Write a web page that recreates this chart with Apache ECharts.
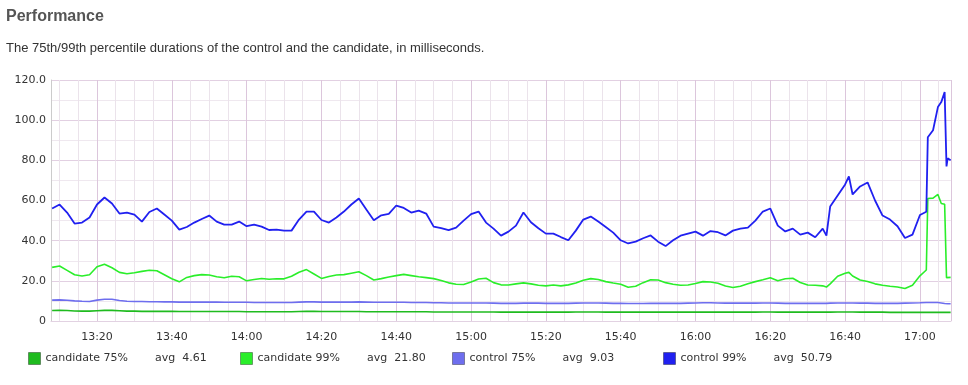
<!DOCTYPE html>
<html><head><meta charset="utf-8">
<script src="https://cdn.jsdelivr.net/npm/echarts@6/dist/echarts.min.js"></script>
<style>html,body{margin:0;padding:0;background:#fff;}#c{width:968px;height:385px;}</style>
</head><body><div id="c"></div>
<script>
// x positions: minutes since midnight (13:08 = 788)
const minutes = [788,790,792,794,796,798,800,802,804,806,808,810,812,814,816,818,820,822,824,826,828,830,832,834,836,838,840,842,844,846,848,850,852,854,856,858,860,862,864,866,868,870,872,874,876,878,880,882,884,886,888,890,892,894,896,898,900,902,904,906,908,910,912,914,916,918,920,922,924,926,928,930,932,934,936,938,940,942,944,946,948,950,952,954,956,958,960,962,964,966,968,970,972,974,976,978,980,982,984,986,988,990,992,994,
995,996,998,1000,1001,1002,1004,1006,1008,1010,1012,1014,1016,1018,1020,1021.7,1022.1,1023.5,1024.8,1025.7,1026.6,1027.1,1027.4,1028.2];

const candidate75 = [5.2,5.3,5.2,5.0,4.9,4.9,5.1,5.3,5.3,5.1,
4.9,4.9,4.8,4.8,4.8,4.8,4.8,4.7,4.7,4.7,
4.7,4.7,4.7,4.7,4.7,4.7,4.6,4.6,4.6,4.6,
4.6,4.6,4.6,4.7,4.8,4.8,4.7,4.7,4.7,4.7,
4.7,4.7,4.6,4.6,4.6,4.6,4.6,4.6,4.6,4.6,
4.6,4.5,4.5,4.5,4.5,4.5,4.5,4.5,4.5,4.5,
4.4,4.4,4.4,4.4,4.4,4.4,4.4,4.4,4.4,4.4,
4.5,4.5,4.5,4.5,4.4,4.4,4.4,4.4,4.4,4.4,
4.4,4.4,4.4,4.4,4.4,4.4,4.4,4.4,4.4,4.4,
4.4,4.4,4.4,4.4,4.4,4.5,4.5,4.4,4.4,4.4,
4.4,4.4,4.4,4.4,
4.4,4.4,4.5,4.5,4.5,4.5,4.4,4.4,4.4,4.4,4.3,4.3,4.3,4.3,4.3,4.3,4.3,4.3,4.3,4.3,4.3,4.3,4.3,4.3];

const candidate99 = [26.7,27.4,25.2,23,22.4,23,27,28.3,26.5,24.2,
23.5,24,24.7,25.3,25,23,21,19.5,21.7,22.6,
23.1,22.9,22,21.5,22.3,22,20,20.7,21.2,20.8,
21,21,22.3,24.3,25.6,23.4,21.2,22.2,22.9,23.1,
23.8,24.5,22.6,20.4,21.1,21.9,22.6,23.2,22.6,22,
21.6,21.1,20.2,19,18.3,18.2,19.4,20.9,21.3,19.1,
18,17.9,18.5,19,18.5,17.8,17.5,17.9,17.5,18,
18.9,20.3,21.1,20.7,19.6,18.9,18.3,16.8,17.3,19.1,
20.5,20.4,19.1,18.3,17.8,17.9,18.7,19.6,19.4,18.8,
17.4,16.7,17.3,18.5,19.6,20.5,21.5,20,21,21.3,
19.2,17.9,17.8,17.5,
16.9,18.5,22.3,23.8,24.2,22.4,20.4,19.7,18.5,17.8,17.3,16.9,16.2,17.8,22.5,25.4,61,61.2,63,58.5,58.1,21.6,21.6,21.7];

const control75 = [10.4,10.5,10.3,10.0,9.8,9.7,10.4,10.8,10.8,10.2,
9.8,9.7,9.7,9.6,9.6,9.5,9.5,9.4,9.4,9.4,
9.4,9.4,9.4,9.3,9.3,9.3,9.3,9.2,9.2,9.2,
9.2,9.2,9.2,9.4,9.5,9.5,9.4,9.4,9.4,9.4,
9.4,9.5,9.4,9.3,9.3,9.3,9.3,9.3,9.2,9.2,
9.2,9.1,9.1,9.0,9.0,9.0,9.0,9.0,9.0,8.9,
8.8,8.8,8.8,8.9,8.9,8.9,8.8,8.8,8.8,8.8,
8.9,9.0,9.0,9.0,8.9,8.8,8.8,8.7,8.7,8.7,
8.8,8.8,8.8,8.8,8.8,8.9,9.0,9.1,9.1,9.0,
8.9,8.9,8.9,8.9,8.9,9.0,9.0,8.9,8.8,8.8,
8.8,8.8,8.8,8.8,
8.8,8.9,9.0,9.0,9.0,9.0,8.9,8.9,8.8,8.8,8.8,8.8,8.9,9.0,9.1,9.2,9.2,9.2,9.2,9.0,8.7,8.6,8.6,8.6];

const control99 = [56,58,54,48.5,49,51.5,58,61.5,58.5,53.5,
54,53,49.5,54.3,56,53,50,45.5,46.8,49,
50.8,52.5,49.5,48,48,49.5,47.2,48,47,45.3,
45.5,45,45,50.5,54.5,54.5,50.3,49,51.5,54.5,
58,61,55.5,50.2,52.6,53.3,57.5,56.3,54,55,
53.5,47,46.2,45.2,46.5,50,53.2,54.5,49,46,
42.5,44.5,47.5,54,49.2,46.2,43.5,43.5,41.8,40.2,
45,50.5,52,49.5,46.8,44,40.2,38.6,39.5,41.2,
42.6,39.5,37.3,40.2,42.5,43.5,44.5,42.5,44.8,44.2,
42.6,45,46,46.5,50,54.5,56,47.5,44.6,46,
43,44,41.7,46,
42.5,57,62.5,68,72,63,67,69,60,52.5,50.5,47.2,41.3,43,52.8,54.4,91.5,95,106.5,109,114,77,81,80];

const seriesNames = ['candidate 75%','candidate 99%','control 75%','control 99%'];
const seriesAverages = ['4.61','21.80','9.03','50.79'];
const seriesColors = ['#1fbb1f','#2aee2a','#6e6eee','#2020f0'];
const legendLefts = [28, 240, 452, 663];
const yTickLabels = {0:'0',20:'20.0',40:'40.0',60:'60.0',80:'80.0',100:'100.0',120:'120.0'};

const seriesData = [candidate75, candidate99, control75, control99];
const fontFam = '"DejaVu Sans", Verdana, sans-serif';

const chart = echarts.init(document.getElementById('c'), null, {renderer:'canvas'});
chart.setOption({
  animation: false,
  backgroundColor: '#fff',
  title: {
    text: 'Performance', left: 1, top: 4, itemGap: 17,
    textStyle: {fontFamily: '"Liberation Sans", Arial, sans-serif', fontWeight: 'bold', fontSize: 16, color: '#555'},
    subtext: 'The 75th/99th percentile durations of the control and the candidate, in milliseconds.',
    subtextStyle: {fontFamily: '"Liberation Sans", Arial, sans-serif', fontSize: 13, color: '#333'}
  },
  grid: {left: 51, right: 17, top: 80, bottom: 64, containLabel: false},
  legend: seriesNames.map(function(name, k){
    return {
      left: legendLefts[k] - 5, top: 347, itemWidth: 12, itemHeight: 12, icon: 'rect',
      data: [name],
      formatter: function(n){ return '{n|' + n + '}{a|avg  ' + seriesAverages[k] + '}'; },
      textStyle: {fontFamily: fontFam, fontSize: 11, color: '#333',
        rich: {n: {padding: [0, 27, 0, 0], fontFamily: fontFam, fontSize: 11, color: '#333'}, a: {fontFamily: fontFam, fontSize: 11, color: '#333'}}},
      itemStyle: {borderColor: 'rgba(0,0,0,0.35)', borderWidth: 1}
    };
  }),
  xAxis: {
    type: 'value', min: 787.7, max: 1028.3, splitNumber: 12,
    axisLine: {show: true, lineStyle: {color: '#e2d2e2'}},
    axisTick: {show: false},
    axisLabel: {fontFamily: fontFam, fontSize: 11, color: '#333', margin: 11, showMinLabel: false, showMaxLabel: false,
      formatter: function(v){ if (Math.abs(v % 20) > 0.01) return ''; const h = Math.floor(v/60), m = Math.round(v - h*60); return h + ':' + (m < 10 ? '0' + m : m); }},
    splitLine: {show: true, lineStyle: {color: '#dcc6dc', width: 1}},
    minorTick: {show: false, splitNumber: 4},
    minorSplitLine: {show: true, lineStyle: {color: '#ebe3eb', width: 1}}
  },
  yAxis: {
    type: 'value', min: 0, max: 120, interval: 20,
    axisLine: {show: true, lineStyle: {color: '#cccccc'}},
    axisTick: {show: false},
    axisLabel: {fontFamily: fontFam, fontSize: 11, color: '#333', margin: 5, formatter: function(v){ return yTickLabels[v] !== undefined ? yTickLabels[v] : ''; }},
    splitLine: {show: true, lineStyle: {color: '#e2d0e2', width: 1}},
    minorTick: {show: false, splitNumber: 2},
    minorSplitLine: {show: true, lineStyle: {color: '#efe8ef', width: 1}}
  },
  series: seriesNames.map(function(name, k){
    return {
      name: name, type: 'line', showSymbol: false, symbol: 'none',
      color: seriesColors[k],
      lineStyle: {width: k === 3 ? 1.8 : 1.6, color: seriesColors[k]},
      data: minutes.map(function(t, i){ return [t, seriesData[k][i]]; })
    };
  })
});
</script></body></html>
